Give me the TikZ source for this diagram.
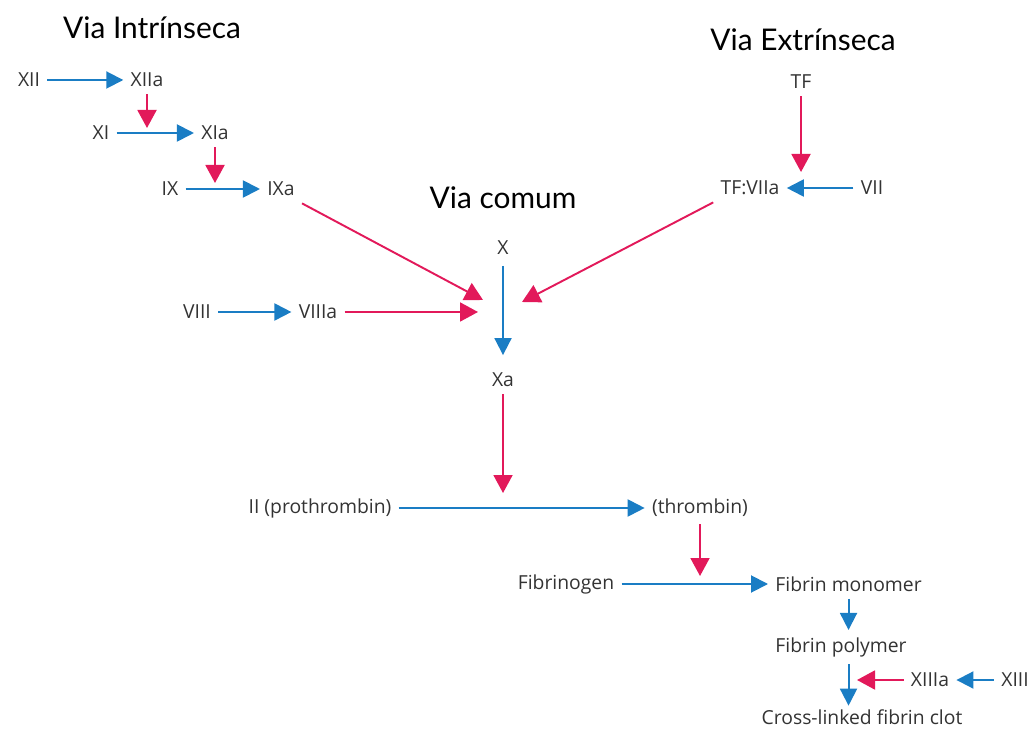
\documentclass[tikz,border=0pt]{standalone}
\usepackage{fontspec}
\setsansfont{Open Sans}
\newfontfamily\viafont{Lato}
\usepackage{tikz}
\usetikzlibrary{arrows.meta, positioning, calc}
\usepackage{xcolor}
\definecolor{FlowBlue}{HTML}{1A7DC4}
\definecolor{ActRed}{HTML}{E2195A}
\definecolor{Ink}{HTML}{333333}

\begin{document}
\begin{tikzpicture}[
            fac/.style={font=\sffamily\fontsize{11}{13}\selectfont, text=Ink, inner sep=4pt},
            via/.style={font=\viafont\fontsize{17}{20}\selectfont, text=black},
            conv/.style={-{Triangle[length=0.34cm, width=0.34cm]}, line width=1.1pt, draw=FlowBlue},
            act/.style={-{Triangle[length=0.36cm, width=0.38cm]}, line width=1.1pt, draw=ActRed}
        ]
            \useasboundingbox (0,0) rectangle (20.62,-14.62);

            % Titles
            \node[via] (tintr) at (3.04,-0.56) {Via Intrínseca};
            \node[via] (textr) at (16.06,-0.80) {Via Extrínseca};
            \node[via] (tcom) at (10.06,-3.96) {Via comum};

            % Intrinsic pathway
            \node[fac] (xii) at (0.58,-1.60) {XII};
            \node[fac] (xiia) at (2.94,-1.60) {XIIa};
            \node[fac] (xi) at (2.02,-2.66) {XI};
            \node[fac] (xia) at (4.30,-2.66) {XIa};
            \node[fac] (ix) at (3.40,-3.78) {IX};
            \node[fac] (ixa) at (5.62,-3.78) {IXa};
            \node[fac] (viii) at (3.94,-6.24) {VIII};
            \node[fac] (viiia) at (6.36,-6.24) {VIIIa};

            % Extrinsic pathway
            \node[fac] (tf) at (16.02,-1.64) {TF};
            \node[fac] (tfviia) at (15.00,-3.76) {TF:VIIa};
            \node[fac] (vii) at (17.44,-3.76) {VII};

            % Common pathway
            \node[fac] (x) at (10.06,-4.96) {X};
            \node[fac] (xa) at (10.06,-7.60) {Xa};
            \node[fac] (ii) at (6.40,-10.16) {II (prothrombin)};
            \node[fac] (iia) at (14.00,-10.16) {(thrombin)};
            \node[fac] (fibgen) at (11.32,-11.68) {Fibrinogen};
            \node[fac, anchor=west] (monomer) at (15.36,-11.68) {Fibrin monomer};
            \node[fac, anchor=west] (polymer) at (15.36,-12.94) {Fibrin polymer};
            \node[fac, inner sep=2pt] (clot) at (17.24,-14.34) {Cross-linked fibrin clot};
            \node[fac] (xiiia) at (18.60,-13.60) {XIIIa};
            \node[fac] (xiii) at (20.30,-13.60) {XIII};

            % Targets of the activating arrows
            \coordinate (onxi) at (2.94,-2.56);
            \coordinate (onix) at (4.30,-3.66);
            \coordinate (fromixa) at (9.66,-6.00);
            \coordinate (fromviiia) at (9.56,-6.24);
            \coordinate (fromtf) at (10.44,-6.04);
            \coordinate (ontfviia) at (16.02,-3.44);
            \coordinate (onii) at (10.06,-9.86);
            \coordinate (onfib) at (14.00,-11.52);
            \coordinate (onclot) at (17.14,-13.60);

            % Conversions
            \draw[conv] (xii) -- (xiia);
            \draw[conv] (xi) -- (xia);
            \draw[conv] (ix) -- (ixa);
            \draw[conv] (viii) -- (viiia);
            \draw[conv] (vii) -- (tfviia);
            \draw[conv, shorten <=2pt, shorten >=6pt] (x) -- (xa);
            \draw[conv] (ii) -- (iia);
            \draw[conv] (fibgen) -- (monomer);
            \draw[conv] (monomer.south) -- (monomer.south |- polymer.north);
            \draw[conv] (polymer.south -| monomer.south) -- (clot.north -| monomer.south);
            \draw[conv] (xiii) -- (xiiia);

            % Activations
            \draw[act] (xiia) -- (onxi);
            \draw[act] (xia) -- (onix);
            \draw[act] (ixa.south east) -- (fromixa);
            \draw[act] (viiia) -- (fromviiia);
            \draw[act] (tfviia.south west) -- (fromtf);
            \draw[act] (tf) -- (ontfviia);
            \draw[act] (xa) -- (onii);
            \draw[act] (iia) -- (onfib);
            \draw[act] (xiiia) -- (onclot);
        \end{tikzpicture}
\end{document}
